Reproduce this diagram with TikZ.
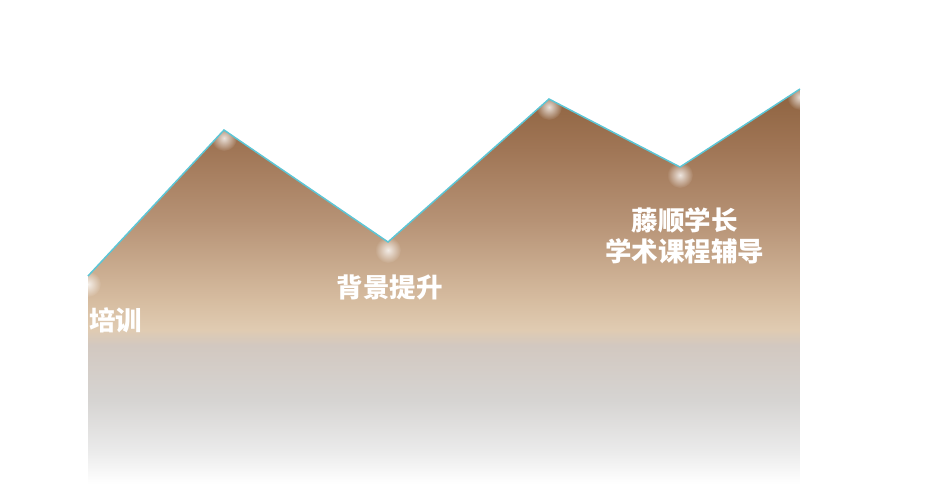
\documentclass[tikz,border=0pt]{standalone}
\usepackage{fontspec}
\newfontfamily\cjk{Noto Sans CJK SC}
\usetikzlibrary{fadings}
\definecolor{cA}{RGB}{142,98,63}
\definecolor{cB}{RGB}{160,118,86}
\definecolor{cC}{RGB}{182,146,117}
\definecolor{cD}{RGB}{214,188,160}
\definecolor{cE}{RGB}{224,203,178}
\definecolor{cF}{RGB}{210,200,192}
\definecolor{cG}{RGB}{214,212,210}
\definecolor{cH}{RGB}{234,234,234}
\definecolor{lineC}{RGB}{92,198,214}
\pgfdeclareverticalshading{areashade}{100bp}{color(0bp)=(white); color(25bp)=(white); color(29.3bp)=(cH); color(35.6bp)=(cG); color(42.6bp)=(cF); color(44.5bp)=(cE); color(48.3bp)=(cD); color(58.4bp)=(cC); color(67.3bp)=(cB); color(75bp)=(cA); color(100bp)=(cA)}
\tikzfading[name=glowfade, inner color=transparent!20, outer color=transparent!100]
\tikzset{
  ridge/.style={draw=lineC, line width=1.5pt, line join=miter},
  glow/.style={fill=white, path fading=glowfade},
  label/.style={text=white, font=\cjk\bfseries\fontsize{26.5}{30.5}\selectfont, inner sep=0pt, align=center}
}
\begin{document}
\begin{tikzpicture}[x=1pt,y=-1pt]
\useasboundingbox (0,0) rectangle (941,496);
\coordinate (p0) at (88,276);
\coordinate (p1) at (224,130);
\coordinate (p2) at (388,242);
\coordinate (p3) at (549,99);
\coordinate (p4) at (680,167);
\coordinate (p5) at (800,89);
\begin{scope}
  \clip (88,484) -- (p0) -- (p1) -- (p2) -- (p3) -- (p4) -- (p5) -- (800,484) -- cycle;
  \shade[shading=areashade] (88,89) rectangle (800,484);
  \foreach \p in {p0,p1,p2,p3,p4,p5}
    \fill[glow] ([yshift=-8pt]\p) circle (13);
\end{scope}
\draw[ridge] (p0) -- (p1) -- (p2) -- (p3) -- (p4) -- (p5);
\node[label, anchor=west] (t1) at (89,320) {培训};
\node[label] (t2) at (389.5,287.5) {背景提升};
\node[label] (t3) at (684.5,236) {藤顺学长\\学术课程辅导};
\end{tikzpicture}
\end{document}
